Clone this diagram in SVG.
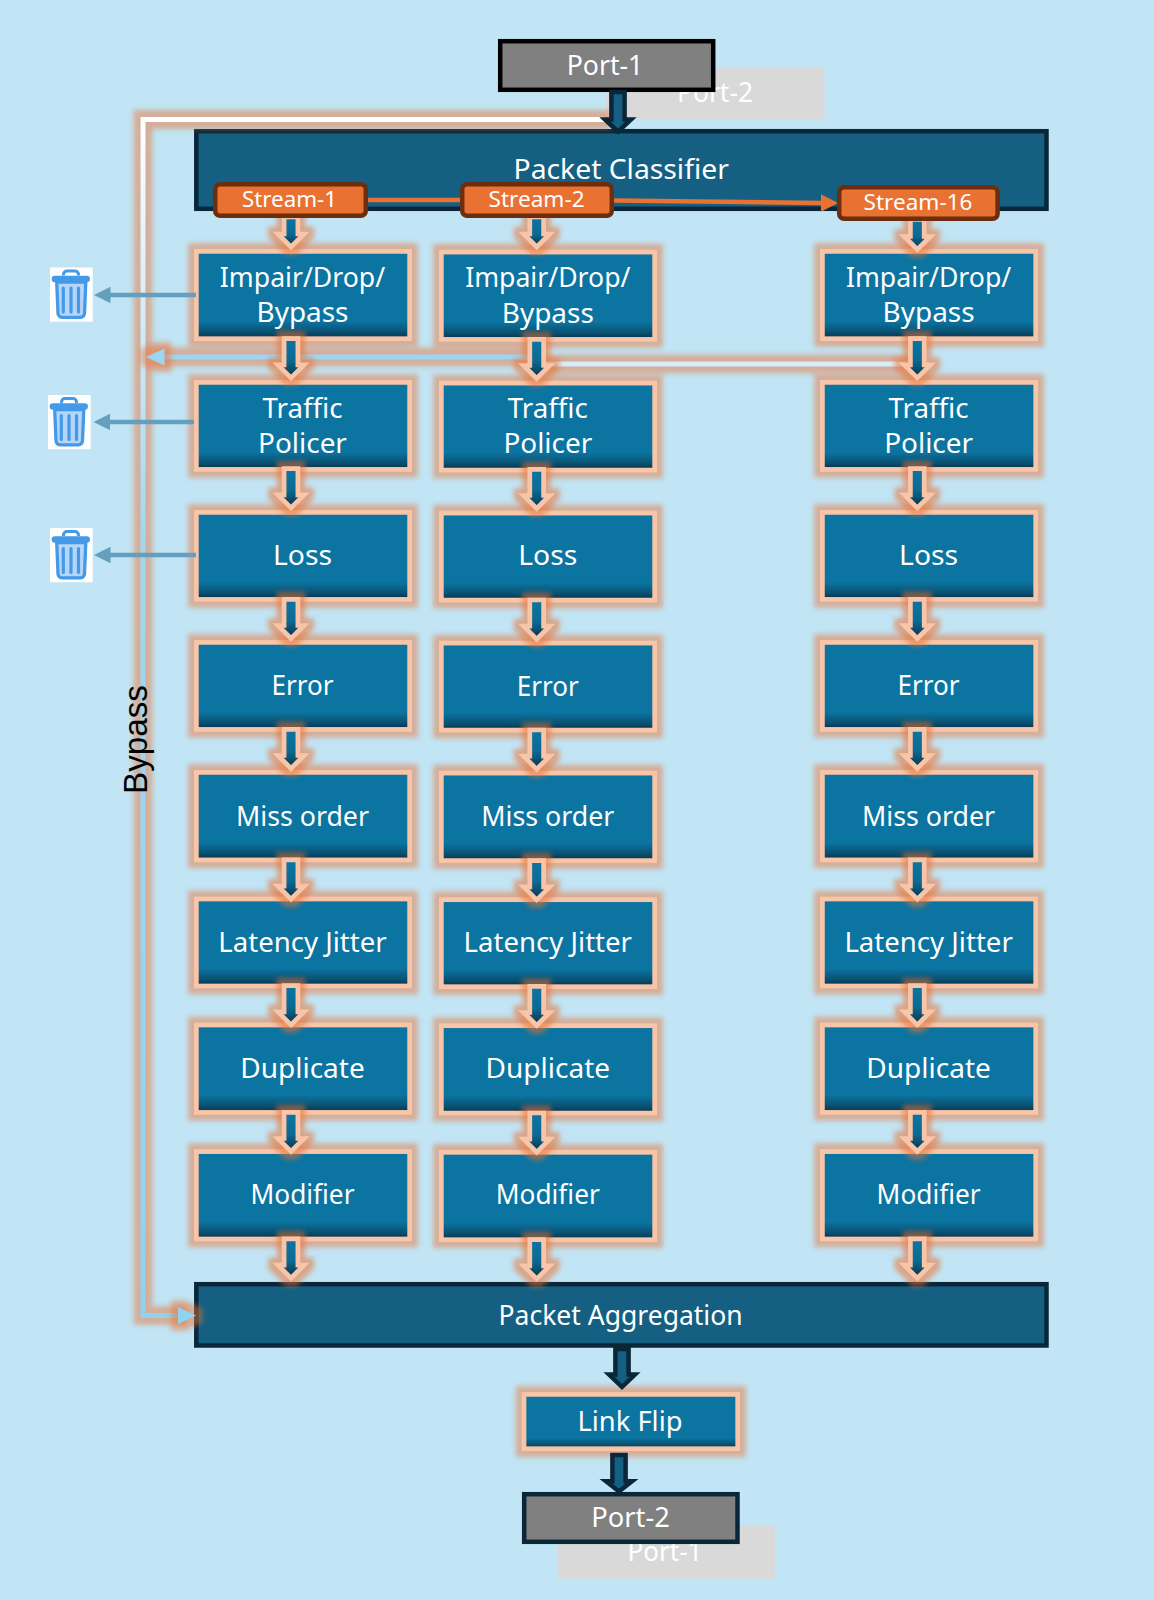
<svg xmlns="http://www.w3.org/2000/svg" xmlns:xlink="http://www.w3.org/1999/xlink" width="1154" height="1600" viewBox="0 0 1154 1600">
<style>
text{font-family:"Noto Sans","Open Sans","Liberation Sans",sans-serif;fill:#fff;font-size:27.5px;text-anchor:middle}
.s{font-size:21.5px}
.box{fill:url(#boxFill);stroke:#f9c5a8;stroke-width:4.7;filter:url(#glowB)}
.wide{fill:#156082;stroke:#0a2739;stroke-width:4.5}
.port{fill:#808080;stroke-width:4.5}
.ghost{fill:#d9d9d9}
.stream{fill:#e97132;stroke:#6b2e0e;stroke-width:4.5}
.ar{fill:url(#arrFill);stroke:#f9c5a8;stroke-width:4.7;filter:url(#glowA)}
.dk{fill:#156082;stroke:#0a2739;stroke-width:4.5}
.by{fill:none;stroke-width:5;filter:url(#glowL)}
.drop{stroke:#649fbe;stroke-width:4.5;fill:none}
.droph{fill:#649fbe}
.or{stroke:#e97132;stroke-width:4.5;fill:none}
</style>
<defs>
<linearGradient id="boxFill" x1="0" y1="0" x2="0" y2="1"><stop offset="0" stop-color="#0b74a1"/><stop offset=".8" stop-color="#0b74a1"/><stop offset=".92" stop-color="#0a5273"/><stop offset="1" stop-color="#05304a"/></linearGradient>
<linearGradient id="arrFill" x1="0" y1="0" x2="0" y2="1"><stop offset="0" stop-color="#0c75a3"/><stop offset=".55" stop-color="#0c6a93"/><stop offset="1" stop-color="#0a3044"/></linearGradient>
<linearGradient id="byFill" gradientUnits="userSpaceOnUse" x1="0" y1="119" x2="0" y2="1316"><stop offset="0" stop-color="#ffffff"/><stop offset=".35" stop-color="#9fd8f3"/><stop offset="1" stop-color="#8fd3f0"/></linearGradient>
<filter id="glowB" x="-15%" y="-25%" width="130%" height="150%" color-interpolation-filters="sRGB"><feMorphology in="SourceAlpha" operator="dilate" radius="6"/><feGaussianBlur stdDeviation="2.6" result="b"/><feFlood flood-color="#e97132" flood-opacity=".47"/><feComposite in2="b" operator="in"/><feMerge><feMergeNode/><feMergeNode in="SourceGraphic"/></feMerge></filter>
<filter id="glowA" x="-80%" y="-50%" width="260%" height="200%" color-interpolation-filters="sRGB"><feMorphology in="SourceAlpha" operator="dilate" radius="5"/><feGaussianBlur stdDeviation="2.6" result="b"/><feFlood flood-color="#e97132" flood-opacity=".55"/><feComposite in2="b" operator="in"/><feMerge><feMergeNode/><feMergeNode in="SourceGraphic"/></feMerge></filter>
<filter id="glowL" filterUnits="userSpaceOnUse" x="100" y="90" width="850" height="1260" color-interpolation-filters="sRGB"><feMorphology in="SourceAlpha" operator="dilate" radius="7"/><feGaussianBlur stdDeviation="2.6" result="b"/><feFlood flood-color="#e97132" flood-opacity=".47"/><feComposite in2="b" operator="in"/><feMerge><feMergeNode/><feMergeNode in="SourceGraphic"/></feMerge></filter>
<path id="a" class="ar" d="M-6.9,-2.4H6.9V23.8H13L0,36.8L-13,23.8H-6.9Z"/>
<path id="as" class="ar" d="M-6.9,-2H6.9V15H13L0,28L-13,15H-6.9Z"/>
<g id="trash">
<rect width="42.7" height="54.2" fill="#fff"/>
<path d="M13.5,8V7a3.5,3.5 0 0 1 3.5-3.5h8a3.5,3.5 0 0 1 3.5,3.5V8" fill="none" stroke="#4499e8" stroke-width="3"/>
<path d="M6.7,14.5L8,45.8a4,4 0 0 0 4,4H30.5a4,4 0 0 0 4-4L35.8,14.5Z" fill="#b5d6f8" stroke="#4499e8" stroke-width="3.3"/>
<rect x="3.3" y="9.8" width="35" height="3.2" rx="1.6" fill="#b5d6f8" stroke="#4499e8" stroke-width="3.3"/>
<path d="M13.3,20.5V44.5M21,20.5V44.5M28.5,20.5V44.5" stroke="#4499e8" stroke-width="3.2" stroke-linecap="round" fill="none"/>
</g>
</defs>
<rect width="1154" height="1600" fill="#c1e5f5"/>

<g id="ghost-port-2"><rect class="ghost" x="606" y="67" width="218.5" height="52"/><text x="715" y="102" textLength="76" lengthAdjust="spacingAndGlyphs">Port-2</text></g>
<g id="ghost-port-1"><rect class="ghost" x="557" y="1525.7" width="218" height="53"/><text x="665" y="1561" textLength="75" lengthAdjust="spacingAndGlyphs">Port-1</text></g>
<g id="port-1-in"><rect class="port" stroke="#000" x="500.2" y="41.2" width="213" height="48.6"/><text x="605" y="74.5" textLength="76.5" lengthAdjust="spacingAndGlyphs">Port-1</text></g>
<g id="classifier"><rect class="wide" x="196.3" y="131.2" width="850.2" height="77.6"/><text x="621.2" y="179" textLength="215.3" lengthAdjust="spacingAndGlyphs">Packet Classifier</text></g>
<g id="aggregation"><rect class="wide" x="196.3" y="1284.2" width="850.2" height="61.3"/><text x="620.6" y="1325.3" textLength="244" lengthAdjust="spacingAndGlyphs">Packet Aggregation</text></g>

<g id="c1-impair"><rect class="box" x="196.35" y="251.4" width="213.3" height="87.3"/><text x="302.5" y="287" textLength="165.3" lengthAdjust="spacingAndGlyphs">Impair/Drop/</text><text x="302.5" y="322" textLength="92" lengthAdjust="spacingAndGlyphs">Bypass</text></g>
<g id="c1-traffic"><rect class="box" x="196.35" y="382.4" width="213.3" height="87"/><text x="302.5" y="417.7" textLength="80" lengthAdjust="spacingAndGlyphs">Traffic</text><text x="302.5" y="453" textLength="88.8" lengthAdjust="spacingAndGlyphs">Policer</text></g>
<g id="c1-loss"><rect class="box" x="196.35" y="512.4" width="213.3" height="87"/><text x="302.5" y="565" textLength="59" lengthAdjust="spacingAndGlyphs">Loss</text></g>
<g id="c1-error"><rect class="box" x="196.35" y="642.4" width="213.3" height="87"/><text x="302.5" y="695.2" textLength="62" lengthAdjust="spacingAndGlyphs">Error</text></g>
<g id="c1-miss"><rect class="box" x="196.35" y="772.4" width="213.3" height="87.5"/><text x="302.5" y="826" textLength="133" lengthAdjust="spacingAndGlyphs">Miss order</text></g>
<g id="c1-latency"><rect class="box" x="196.35" y="899" width="213.3" height="87"/><text x="302.5" y="951.7" textLength="168.4" lengthAdjust="spacingAndGlyphs">Latency Jitter</text></g>
<g id="c1-duplicate"><rect class="box" x="196.35" y="1025" width="213.3" height="87.4"/><text x="302.5" y="1077.7" textLength="124.5" lengthAdjust="spacingAndGlyphs">Duplicate</text></g>
<g id="c1-modifier"><rect class="box" x="196.35" y="1151.6" width="213.3" height="87.4"/><text x="302.5" y="1204" textLength="104" lengthAdjust="spacingAndGlyphs">Modifier</text></g>

<g id="c2-impair"><rect class="box" x="441.35" y="252.1" width="213.3" height="87.3"/><text x="547.8" y="287.4" textLength="165.3" lengthAdjust="spacingAndGlyphs">Impair/Drop/</text><text x="547.8" y="322.9" textLength="92" lengthAdjust="spacingAndGlyphs">Bypass</text></g>
<g id="c2-traffic"><rect class="box" x="441.35" y="383.1" width="213.3" height="87"/><text x="547.8" y="418" textLength="80" lengthAdjust="spacingAndGlyphs">Traffic</text><text x="547.8" y="453.2" textLength="88.8" lengthAdjust="spacingAndGlyphs">Policer</text></g>
<g id="c2-loss"><rect class="box" x="441.35" y="513.1" width="213.3" height="87"/><text x="547.8" y="565.4" textLength="59" lengthAdjust="spacingAndGlyphs">Loss</text></g>
<g id="c2-error"><rect class="box" x="441.35" y="643.1" width="213.3" height="87"/><text x="547.8" y="695.6" textLength="62" lengthAdjust="spacingAndGlyphs">Error</text></g>
<g id="c2-miss"><rect class="box" x="441.35" y="773.1" width="213.3" height="87.5"/><text x="547.8" y="826.2" textLength="133" lengthAdjust="spacingAndGlyphs">Miss order</text></g>
<g id="c2-latency"><rect class="box" x="441.35" y="899.7" width="213.3" height="87"/><text x="547.8" y="952" textLength="168.4" lengthAdjust="spacingAndGlyphs">Latency Jitter</text></g>
<g id="c2-duplicate"><rect class="box" x="441.35" y="1025.7" width="213.3" height="87.4"/><text x="547.8" y="1078" textLength="124.5" lengthAdjust="spacingAndGlyphs">Duplicate</text></g>
<g id="c2-modifier"><rect class="box" x="441.35" y="1152.3" width="213.3" height="87.4"/><text x="547.8" y="1204.3" textLength="104" lengthAdjust="spacingAndGlyphs">Modifier</text></g>

<g id="c3-impair"><rect class="box" x="822.4" y="251.4" width="213.3" height="87.3"/><text x="928.6" y="287" textLength="165.3" lengthAdjust="spacingAndGlyphs">Impair/Drop/</text><text x="928.6" y="322" textLength="92" lengthAdjust="spacingAndGlyphs">Bypass</text></g>
<g id="c3-traffic"><rect class="box" x="822.4" y="382.4" width="213.3" height="87"/><text x="928.6" y="417.7" textLength="80" lengthAdjust="spacingAndGlyphs">Traffic</text><text x="928.6" y="453" textLength="88.8" lengthAdjust="spacingAndGlyphs">Policer</text></g>
<g id="c3-loss"><rect class="box" x="822.4" y="512.4" width="213.3" height="87"/><text x="928.6" y="565" textLength="59" lengthAdjust="spacingAndGlyphs">Loss</text></g>
<g id="c3-error"><rect class="box" x="822.4" y="642.4" width="213.3" height="87"/><text x="928.6" y="695.2" textLength="62" lengthAdjust="spacingAndGlyphs">Error</text></g>
<g id="c3-miss"><rect class="box" x="822.4" y="772.4" width="213.3" height="87.5"/><text x="928.6" y="826" textLength="133" lengthAdjust="spacingAndGlyphs">Miss order</text></g>
<g id="c3-latency"><rect class="box" x="822.4" y="899" width="213.3" height="87"/><text x="928.6" y="951.7" textLength="168.4" lengthAdjust="spacingAndGlyphs">Latency Jitter</text></g>
<g id="c3-duplicate"><rect class="box" x="822.4" y="1025" width="213.3" height="87.4"/><text x="928.6" y="1077.7" textLength="124.5" lengthAdjust="spacingAndGlyphs">Duplicate</text></g>
<g id="c3-modifier"><rect class="box" x="822.4" y="1151.6" width="213.3" height="87.4"/><text x="928.6" y="1204" textLength="104" lengthAdjust="spacingAndGlyphs">Modifier</text></g>

<g id="link-flip"><rect class="box" x="524" y="1394.4" width="213.7" height="54.3"/><text x="630" y="1431" textLength="105" lengthAdjust="spacingAndGlyphs">Link Flip</text></g>
<g id="port-2-out"><rect class="port" stroke="#0a2739" x="524.2" y="1494.2" width="213.3" height="47.6"/><text x="630.6" y="1527" textLength="78.5" lengthAdjust="spacingAndGlyphs">Port-2</text></g>

<g id="trash-1"><use href="#trash" x="50" y="267.5"/></g>
<g id="trash-2"><use href="#trash" x="48" y="395"/></g>
<g id="trash-3"><use href="#trash" x="50" y="528"/></g>

<g id="connectors">
<path class="by" stroke="url(#byFill)" d="M604,119.5H143V1315.5H180"/>
<path class="by" style="fill:#8fd3f0;stroke:none" d="M178,1307L196,1315.5L178,1324Z"/>
<path class="by" stroke="#9bd7f5" d="M536,357H160"/>
<path class="by" style="fill:#9bd7f5;stroke:none" d="M164.5,348.5L146,357L164.5,365.5Z"/>
<path class="by" stroke="#d6edf9" d="M905,364H537"/>

<path class="drop" d="M196,295H108"/><path class="droph" d="M110.5,286.7L94,295L110.5,303.3Z"/>
<path class="drop" d="M194,422H108"/><path class="droph" d="M110,413.7L93.5,422L110,430.3Z"/>
<path class="drop" d="M196,555H108"/><path class="droph" d="M110.5,546.7L94,555L110.5,563.3Z"/>

<use href="#as" x="291" y="219"/><use href="#as" x="536.7" y="219"/><use href="#as" x="917.3" y="221.5"/>

<use href="#a" x="291" y="341"/><use href="#a" x="291" y="471"/><use href="#a" x="291" y="601.7"/><use href="#a" x="291" y="731.7"/><use href="#a" x="291" y="862.3"/><use href="#a" x="291" y="988"/><use href="#a" x="291" y="1114.7"/><use href="#a" x="291" y="1241.3"/>
<use href="#a" x="536.7" y="341.7"/><use href="#a" x="536.7" y="471.7"/><use href="#a" x="536.7" y="602.4"/><use href="#a" x="536.7" y="732.4"/><use href="#a" x="536.7" y="863"/><use href="#a" x="536.7" y="988.7"/><use href="#a" x="536.7" y="1115.4"/><use href="#a" x="536.7" y="1242"/>
<use href="#a" x="917.3" y="341"/><use href="#a" x="917.3" y="471"/><use href="#a" x="917.3" y="601.7"/><use href="#a" x="917.3" y="731.7"/><use href="#a" x="917.3" y="862.3"/><use href="#a" x="917.3" y="988"/><use href="#a" x="917.3" y="1114.7"/><use href="#a" x="917.3" y="1241.3"/>

<path class="dk" d="M611.4,92H624.6V119.5H631L618,131.7L605,119.5H611.4Z"/>
<path class="dk" d="M615.4,1349H628.6V1374.5H635L622,1387L609,1374.5H615.4Z"/>
<path class="dk" d="M612.4,1455H625.6V1481.3H632L619,1491.5L606,1481.3H612.4Z"/>

<path class="or" d="M368,200H460"/>
<path class="or" d="M614,200.5L823,203"/>
<path fill="#e97132" d="M821,194.3L838,203L821,211.7Z"/>
<text x="146.7" y="794" transform="rotate(-90 146.7 794)" textLength="109" lengthAdjust="spacingAndGlyphs" style="font-family:'Liberation Sans',Arial,sans-serif;font-size:33px;fill:#000;text-anchor:start">Bypass</text>
</g>

<g id="stream-1"><rect class="stream" x="215.2" y="184.2" width="150.6" height="31.6" rx="5"/><text class="s" x="289.5" y="207" textLength="95" lengthAdjust="spacingAndGlyphs">Stream-1</text></g>
<g id="stream-2"><rect class="stream" x="462.2" y="184.2" width="149.6" height="31.6" rx="5"/><text class="s" x="536.6" y="207" textLength="96" lengthAdjust="spacingAndGlyphs">Stream-2</text></g>
<g id="stream-16"><rect class="stream" x="839.2" y="187.2" width="158.4" height="31.6" rx="5"/><text class="s" x="918" y="210" textLength="109" lengthAdjust="spacingAndGlyphs">Stream-16</text></g>
</svg>
